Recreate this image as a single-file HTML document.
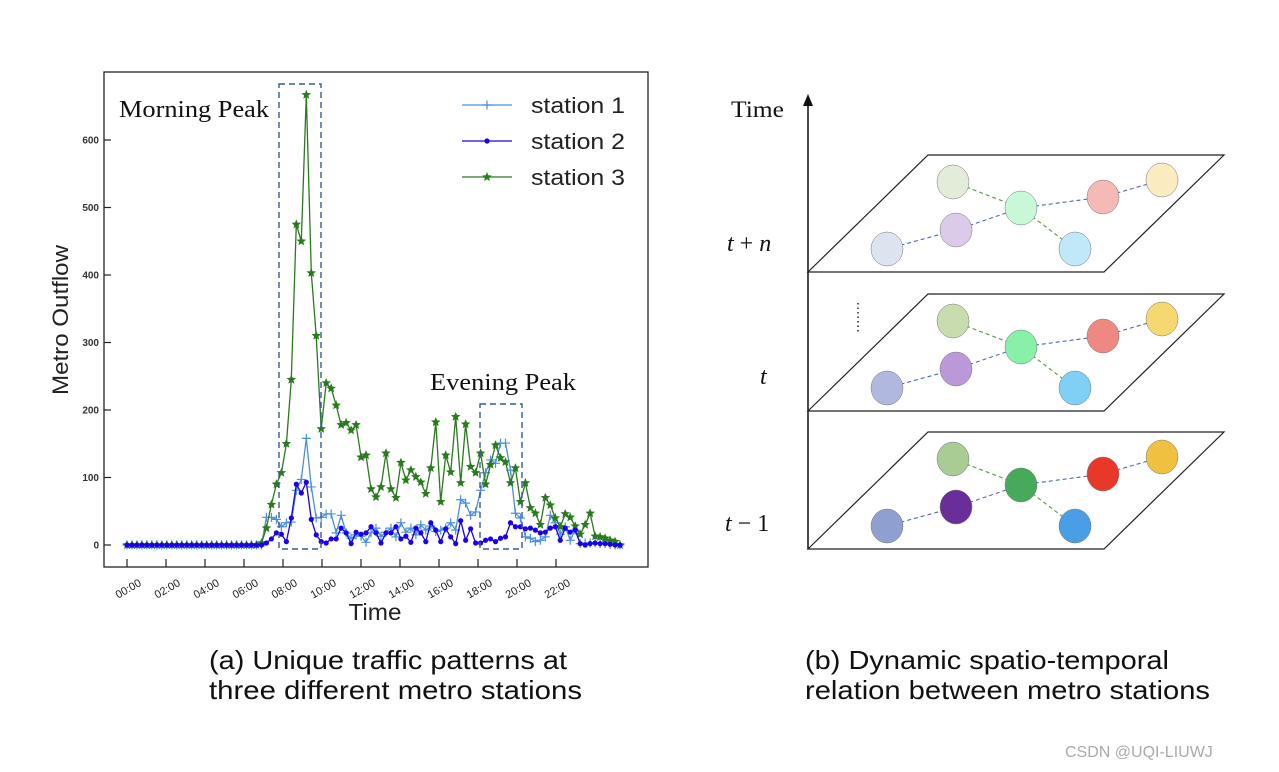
<!DOCTYPE html>
<html><head><meta charset="utf-8">
<style>
body{margin:0;background:#fff;width:1279px;height:772px;overflow:hidden;font-family:"Liberation Sans",sans-serif}
svg{position:absolute;left:0;top:0}
</style></head>
<body>
<svg id="fig" width="1279" height="772" viewBox="0 0 1279 772">
  <rect x="104" y="72" width="544" height="495" fill="none" stroke="#222" stroke-width="1.3"/>
  <g id="yticks"></g>
  <g id="xticks"></g>
  <g id="series"></g>
  <rect x="279" y="84" width="42" height="465" fill="none" stroke="#3a5a9a" stroke-width="1.4" stroke-dasharray="6,4"/>
  <rect x="480" y="404" width="42" height="145" fill="none" stroke="#3a5a9a" stroke-width="1.4" stroke-dasharray="6,4"/>
  <text x="119" y="117" font-family="Liberation Serif,serif" font-size="24" textLength="150" lengthAdjust="spacingAndGlyphs" fill="#111">Morning Peak</text>
  <text x="430" y="390" font-family="Liberation Serif,serif" font-size="24" textLength="146" lengthAdjust="spacingAndGlyphs" fill="#111">Evening Peak</text>
  <text transform="translate(68,320) rotate(-90)" text-anchor="middle" font-size="22" textLength="150" lengthAdjust="spacingAndGlyphs" fill="#222">Metro Outflow</text>
  <text x="375" y="620" text-anchor="middle" font-size="23" textLength="53" lengthAdjust="spacingAndGlyphs" fill="#222">Time</text>
  <g id="legend"></g>
  <text x="209" y="669" font-size="26" textLength="358" lengthAdjust="spacingAndGlyphs" fill="#111">(a) Unique traffic patterns at</text>
  <text x="209" y="699" font-size="26" textLength="373" lengthAdjust="spacingAndGlyphs" fill="#111">three different metro stations</text>
  <text x="805" y="669" font-size="26" textLength="364" lengthAdjust="spacingAndGlyphs" fill="#111">(b) Dynamic spatio-temporal</text>
  <text x="805" y="699" font-size="26" textLength="405" lengthAdjust="spacingAndGlyphs" fill="#111">relation between metro stations</text>

  <!-- right diagram -->
  <line x1="808" y1="104" x2="808" y2="549" stroke="#111" stroke-width="1.5"/>
  <polygon points="808,94 803,106 813,106" fill="#111"/>
  <text x="731" y="117" font-family="Liberation Serif,serif" font-size="23" textLength="53" lengthAdjust="spacingAndGlyphs" fill="#111">Time</text>
  <text x="727" y="251" font-family="Liberation Serif,serif" font-size="24" fill="#111"><tspan font-style="italic">t</tspan> + <tspan font-style="italic">n</tspan></text>
  <line x1="858" y1="303" x2="858" y2="333" stroke="#333" stroke-width="1.6" stroke-dasharray="1.5,3"/>
  <text x="760" y="384" font-family="Liberation Serif,serif" font-size="24" font-style="italic" fill="#111">t</text>
  <text x="725" y="531" font-family="Liberation Serif,serif" font-size="24" fill="#111"><tspan font-style="italic">t</tspan> − 1</text>
  <g id="layers"></g>

  <text x="1065" y="757" font-size="16" fill="#aaa">CSDN @UQI-LIUWJ</text>
</svg>
<script>
const yTicks=[0,100,200,300,400,500,600];
const xTickHours=[0,2,4,6,8,10,12,14,16,18,20,22];
const xTickLabels=["00:00","02:00","04:00","06:00","08:00","10:00","12:00","14:00","16:00","18:00","20:00","22:00"];
const station1=[0,0,0,0,0,0,0,0,0,0,0,0,0,0,0,0,0,0,0,0,0,0,0,0,0,0,0,0,41,41,38,27,33,34,81,97,158,86,40,41,46,46,18,44,18,10,15,13,4,18,25,13,19,25,12,33,19,25,15,30,22,28,20,22,25,33,22,67,62,44,49,81,107,126,121,151,151,111,47,40,12,10,5,7,12,44,33,16,27,7,22,2,3,3,3,2,2,1,0,0];
const station2=[0,0,0,0,0,0,0,0,0,0,0,0,0,0,0,0,0,0,0,0,0,0,0,0,0,0,0,0,3,9,18,16,5,40,90,77,93,38,15,5,3,9,9,25,18,2,19,16,18,27,18,3,18,18,27,9,13,4,25,18,5,33,22,5,24,12,2,36,7,24,3,3,7,9,5,10,12,33,27,27,24,25,22,18,19,25,27,7,25,19,22,2,0,2,3,2,2,1,0,0];
const station3=[0,0,0,0,0,0,0,0,0,0,0,0,0,0,0,0,0,0,0,0,0,0,0,0,0,0,0,3,25,60,90,107,150,245,475,450,667,403,310,172,240,232,207,178,181,170,178,130,133,83,71,86,136,83,70,122,96,111,101,93,76,114,182,64,133,108,190,92,179,116,107,136,90,119,148,129,123,92,114,64,92,55,47,30,70,59,40,27,46,41,28,16,30,47,13,12,10,7,5,0];
const seriesNames=["station 1","station 2","station 3"];

const NS="http://www.w3.org/2000/svg";
function el(tag,attrs,parent){const e=document.createElementNS(NS,tag);for(const k in attrs)e.setAttribute(k,attrs[k]);parent.appendChild(e);return e;}
const yScale=v=>545-v*0.675;
const xIdx=i=>127+i*4.98;
const xHour=h=>127+h*19.5;

const yg=document.getElementById('yticks');
yTicks.forEach(v=>{
  const l=el('line',{x1:104,x2:111,y1:yScale(v),y2:yScale(v),stroke:'#222','stroke-width':1.2},yg);
  
  
  const t=el('text',{x:99,y:yScale(v)+3.5,'text-anchor':'end','font-size':10,'font-weight':'bold',fill:'#333'},yg);
  t.textContent=v;
  
  
});
const xg=document.getElementById('xticks');
xTickHours.forEach((h,i)=>{
  const x=xHour(h);
  const l=el('line',{x1:x,x2:x,y1:559,y2:567,stroke:'#222','stroke-width':1.2},xg);
  
  
  const t=el('text',{transform:`translate(${x+15},${585}) rotate(-30)`,'text-anchor':'end','font-size':11,fill:'#222'},xg);
  t.textContent=xTickLabels[i];
  
  
});

function star(cx,cy,r){let p=[];for(let k=0;k<10;k++){const a=-Math.PI/2+k*Math.PI/5;const rr=k%2?r*0.45:r;p.push((cx+rr*Math.cos(a)).toFixed(1)+','+(cy+rr*Math.sin(a)).toFixed(1));}return p.join(' ');}
const sg=document.getElementById('series');
const cfg=[{d:station1,c:'#4a90d9',m:'plus'},{d:station2,c:'#1a00ee',m:'dot'},{d:station3,c:'#2a7a1e',m:'star'}];
function marker(g,m,x,y,c){
  let e;
  if(m==='plus'){const s=4.5;e=el('path',{d:`M${x-s},${y}H${x+s}M${x},${y-s}V${y+s}`,stroke:c,'stroke-width':1.2},g);}
  else if(m==='dot'){e=el('circle',{cx:x,cy:y,r:2.6,fill:c},g);}
  else{e=el('polygon',{points:star(x,y,5),fill:c},g);}
  return e;
}
[0,2,1].forEach(si=>{
  const s=cfg[si];
  const g=el('g',{},sg);
  
  
  const pts=s.d.map((v,i)=>xIdx(i).toFixed(1)+','+yScale(v).toFixed(1)).join(' ');
  const pl=el('polyline',{points:pts,fill:'none',stroke:s.c,'stroke-width':1.3},g);
  
  
  s.d.forEach((v,i)=>{
    const mk=marker(g,s.m,xIdx(i),yScale(v),s.c);
    
    
  });
});
const lg=document.getElementById('legend');
seriesNames.forEach((n,i)=>{
  const y=105+i*36;const s=cfg[i];
  const l=el('line',{x1:462,x2:512,y1:y,y2:y,stroke:s.c,'stroke-width':1.3},lg);
  
  
  const mk=marker(lg,s.m,487,y,s.c);
  
  
  const t=el('text',{x:531,y:y+8,'font-size':22,textLength:94,lengthAdjust:'spacingAndGlyphs',fill:'#222'},lg);
  t.textContent=n;
  
  
});

// right diagram layers
const layerOffsets=[0,139,277];
const nodePos=[[887,249],[956,230],[1021,208],[1103,197],[1162,180],[953,182],[1075,249]];
const nodeColors=[
 ['#dde3ef','#dccbe8','#c8f8d8','#f3bab6','#faecc0','#e2ecd8','#c0e8f8'],
 ['#b0b8e0','#bb99d8','#88f0a8','#ee8880','#f6d870','#c8dcb0','#80d0f5'],
 ['#8f9fd0','#6a2e9a','#47a95a','#e8382a','#f0c040','#a8cc94','#4a9ee6']];
const edges=[[0,1,'#4a66c0'],[1,2,'#4a66c0'],[2,3,'#4a66c0'],[3,4,'#4a66c0'],[5,2,'#5a9a40'],[2,6,'#5a9a40']];
const lyr=document.getElementById('layers');
layerOffsets.forEach((o,li)=>{
  const g=el('g',{},lyr);
  
  
  const p=el('polygon',{points:`808,${272+o} 928,${155+o} 1224,${155+o} 1104,${272+o}`,fill:'#fff',stroke:'#222','stroke-width':1.2},g);
  
  
  edges.forEach(e=>{
    const a=nodePos[e[0]],b=nodePos[e[1]];
    const l=el('line',{x1:a[0],y1:a[1]+o,x2:b[0],y2:b[1]+o,stroke:e[2],'stroke-width':1.1,'stroke-dasharray':'4,3'},g);
    
    
  });
  nodePos.forEach((n,ni)=>{
    const c=el('ellipse',{cx:n[0],cy:n[1]+o,rx:16,ry:17,fill:nodeColors[li][ni],stroke:'#777','stroke-width':0.5},g);
    
    
  });
});
</script>
</body></html>
